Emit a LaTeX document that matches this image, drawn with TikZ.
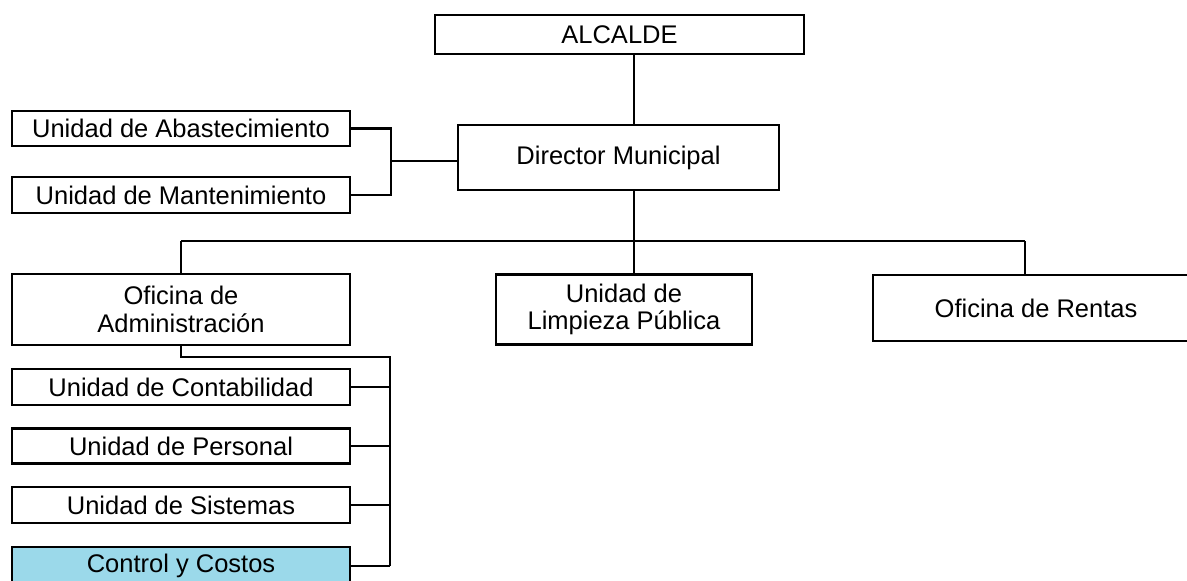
\documentclass[tikz,border=0pt]{standalone}
\usepackage{fontspec}
\setmainfont{Liberation Sans}
\definecolor{ctrlblue}{RGB}{155,217,234}
\begin{document}
\begin{tikzpicture}[x=1pt,y=-1pt,
  box/.style={draw=black,line width=2.2pt,fill=white,rectangle,inner sep=0pt,
    align=center,font=\fontsize{25.5}{27.5}\selectfont},
  conn/.style={draw=black,line width=2.2pt}]
\useasboundingbox (0,0) rectangle (1187,581);
\begin{scope}
\clip (0,0) rectangle (1187,581);
% boxes
\node[box,minimum width=369pt,minimum height=39pt] (alc) at (619.5,34.5) {ALCALDE};
\node[box,minimum width=321pt,minimum height=65pt] (dir) at (618.5,157.5) {Director Municipal};
\node[box,minimum width=338pt,minimum height=35pt] (abas) at (181,128.5) {Unidad de Abastecimiento};
\node[box,minimum width=338pt,minimum height=36pt] (mant) at (181,195) {Unidad de Mantenimiento};
\node[box,minimum width=338pt,minimum height=71pt] (adm) at (181,309.5) {Oficina de\\Administración};
\node[box,minimum width=256pt,minimum height=70pt] (limp) at (624,309.5) {Unidad de\\Limpieza Pública};
\node[box,minimum width=326pt,minimum height=66pt] (rent) at (1036,308) {Oficina de Rentas};
\node[box,minimum width=338pt,minimum height=36pt] (cont) at (181,387) {Unidad de Contabilidad};
\node[box,minimum width=338pt,minimum height=35pt] (pers) at (181,446) {Unidad de Personal};
\node[box,minimum width=338pt,minimum height=36pt] (sist) at (181,505) {Unidad de Sistemas};
\node[box,fill=ctrlblue,minimum width=338pt,minimum height=38pt] (ctrl) at (181,566) {Control y Costos};
% junction coordinates
\coordinate (tk) at (634,0);
\coordinate (rk) at (1025,0);
\coordinate (bus) at (0,241);
\coordinate (jA) at (391,161);
\coordinate (jB) at (390,357);
% connectors
\draw[conn] (alc.south -| tk) -- (dir.north -| tk);
\draw[conn] (dir.south -| tk) -- (bus -| tk);
\draw[conn] (bus -| adm.north) -- (bus -| rk);
\draw[conn] (bus -| adm.north) -- (adm.north);
\draw[conn] (bus -| tk) -- (limp.north -| tk);
\draw[conn] (bus -| rk) -- (rent.north -| rk);
\draw[conn] (abas.east) -- (abas.east -| jA) -- (mant.east -| jA) -- (mant.east);
\draw[conn] (jA) -- (jA -| dir.west);
\draw[conn] (adm.south) -- (adm.south |- jB) -- (jB) -- (jB |- ctrl.east);
\draw[conn] (cont.east) -- (cont.east -| jB);
\draw[conn] (pers.east) -- (pers.east -| jB);
\draw[conn] (sist.east) -- (sist.east -| jB);
\draw[conn] (ctrl.east) -- (ctrl.east -| jB);
\end{scope}
\end{tikzpicture}
\end{document}
